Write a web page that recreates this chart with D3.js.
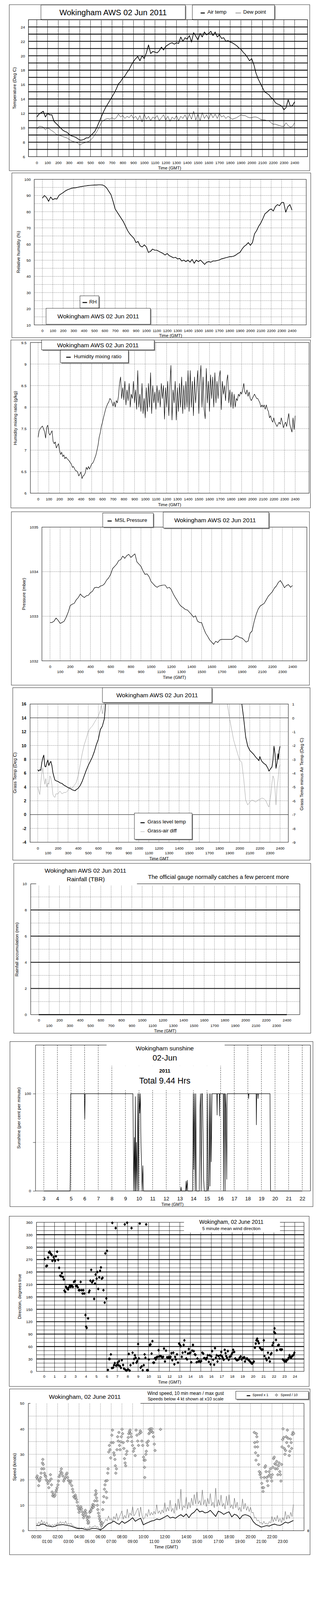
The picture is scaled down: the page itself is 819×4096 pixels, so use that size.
<!DOCTYPE html>
<html><head><meta charset="utf-8">
<script src="https://cdn.jsdelivr.net/npm/d3@7"></script>
<style>html,body{margin:0;padding:0;background:#fff}svg{display:block}</style>
</head><body>
<svg id="chart" width="819" height="4096" viewBox="0 0 1000 5000"></svg>
<script>
// ================= DATA =================
const timeTicks = d3.range(0, 2401, 100);          // HHMM axis ticks
const evenTicks = d3.range(0, 2401, 200);
const oddTicks = d3.range(100, 2400, 200);
const times20 = d3.range(0, 2401, 20);
const times10 = d3.range(0, 2401, 10);

const airTemp = [11.5,11.9,12.1,12.3,11.5,12.0,11.8,11.8,10.9,10.6,
 10.3,10.0,9.7,9.5,9.4,9.1,8.9,8.8,8.7,8.5,
 8.3,8.3,8.4,8.6,8.6,8.9,9.2,9.5,10.1,10.8,
 11.5,12.2,12.8,13.3,13.8,14.3,14.8,15.4,16.1,16.4,
 16.9,17.2,17.7,18.1,18.7,19.2,19.6,19.9,19.3,20.0,
 19.6,20.4,21.5,20.3,20.6,20.5,20.4,20.7,21.2,20.8,
 21.3,21.5,21.7,21.8,21.6,21.8,21.7,22.6,22.0,22.5,
 22.3,22.8,21.9,23.2,22.7,22.2,23.1,22.6,23.3,22.9,
 23.1,23.4,22.8,23.3,22.6,22.9,22.4,22.5,22.0,22.1,
 21.9,21.8,21.6,21.4,21.1,20.9,20.5,20.2,19.8,19.3,
 19.6,18.8,17.6,16.8,16.2,15.6,15.0,14.8,14.6,14.2,
 14.0,13.5,13.3,13.2,13.0,12.5,12.8,13.9,13.0,13.1,
 13.6];
const dewPoint = [9.8,10.2,10.2,10.1,9.7,10.0,9.8,9.6,9.4,9.1,
 9.0,8.9,8.8,8.7,8.6,8.4,8.2,8.1,8.0,7.9,
 7.6,7.8,7.9,8.0,8.1,8.3,8.6,9.0,9.5,10.1,
 10.7,11.0,11.2,11.3,11.2,11.4,11.2,11.4,11.9,11.5,
 11.7,11.3,11.6,11.4,11.8,11.3,11.6,11.1,11.7,10.8,
 11.9,11.2,11.6,11.0,11.5,11.3,11.7,11.0,11.4,11.8,
 11.1,11.6,10.9,11.5,11.2,11.7,11.0,11.6,11.3,11.8,
 11.1,11.9,11.2,12.3,11.1,11.9,11.0,12.1,11.3,11.8,
 11.2,12.0,11.4,11.9,11.3,12.0,11.5,11.7,11.3,11.6,
 11.4,11.2,11.3,11.4,11.6,11.8,11.7,11.7,11.5,11.4,
 11.4,11.5,11.5,11.4,11.2,11.1,11.1,11.0,11.0,10.7,
 10.5,10.5,10.4,10.3,10.2,10.2,10.7,10.3,10.1,10.2,
 10.7];
const relHumidity = [88.4,90.0,88.8,86.4,89.1,87.4,88.1,87.8,90.1,91.0,
 91.8,92.8,93.5,94.0,94.5,94.7,94.8,95.1,95.4,95.6,
 95.8,96.0,96.2,96.3,96.4,96.5,96.5,96.6,96.6,96.5,
 95.8,94.5,92.5,90.5,86.4,81.7,79.7,77.7,75.7,73.7,
 71.0,68.3,66.3,64.9,63.6,60.9,61.6,58.9,58.2,59.5,
 58.2,54.8,55.5,56.9,56.2,56.2,55.5,54.8,54.2,53.2,
 54.2,52.8,52.2,51.5,51.8,50.8,51.1,49.5,50.1,49.1,
 50.1,48.8,50.5,48.1,50.1,49.1,50.1,48.8,47.4,48.8,
 49.1,48.8,49.5,49.5,49.8,50.1,50.8,51.1,51.5,51.8,
 52.2,52.2,52.5,53.2,54.2,54.8,56.9,58.5,59.5,60.9,
 59.2,60.9,66.3,68.3,71.0,73.0,75.7,78.7,79.7,81.0,
 81.7,80.4,83.1,84.4,83.7,85.7,85.7,79.7,83.1,84.4,
 81.0];
const mixingRatio = [7.3,7.45,7.5,7.53,7.56,7.5,7.43,7.28,7.53,7.58,
 7.4,7.35,7.4,7.45,7.2,7.15,7.19,7.05,7.1,7.15,
 7.0,6.9,6.95,6.85,6.89,6.8,6.84,6.8,6.78,6.75,
 6.71,6.68,6.6,6.62,6.57,6.52,6.52,6.48,6.4,6.45,
 6.49,6.34,6.4,6.42,6.47,6.6,6.55,6.62,6.56,6.62,
 6.68,6.7,6.75,6.82,6.89,7.0,7.12,7.3,7.4,7.55,
 7.64,7.75,7.85,7.95,8.02,8.08,8.12,8.2,8.17,8.1,
 8.02,8.12,8.0,8.15,8.1,8.25,8.55,8.7,8.2,8.45,
 8.17,8.6,8.05,8.4,8.15,8.55,8.0,8.3,8.2,8.6,
 8.1,8.4,7.95,8.85,8.0,8.3,7.9,8.55,7.85,8.2,
 7.75,8.45,7.9,8.55,8.0,8.8,7.85,8.5,8.1,8.35,
 7.95,8.5,8.1,8.4,8.0,8.55,8.2,8.5,7.72,8.45,
 8.0,8.6,7.8,8.5,8.97,7.7,8.4,8.1,8.6,7.7,
 8.45,7.9,8.55,8.0,8.7,7.85,8.5,7.95,8.6,8.0,
 8.85,7.9,8.85,8.0,8.6,7.8,8.7,8.1,8.45,8.85,
 7.85,8.6,8.97,8.0,8.7,7.95,7.73,8.9,8.1,8.6,
 7.9,8.75,8.2,8.7,8.0,8.8,8.1,8.6,8.2,8.7,
 8.85,7.94,8.6,8.3,8.5,8.15,8.6,8.75,8.1,8.4,
 8.0,8.35,7.97,8.3,8.0,8.2,8.15,8.3,8.25,8.35,
 8.3,8.4,8.55,8.35,8.3,8.4,8.25,8.35,8.2,8.15,
 8.2,8.25,8.3,8.25,8.2,8.2,8.15,8.1,8.0,8.05,
 8.0,8.05,7.95,8.05,7.95,7.9,7.75,7.8,7.7,7.65,
 7.75,7.65,7.6,7.55,7.6,7.65,7.6,7.75,7.65,7.52,
 7.6,7.65,7.55,7.7,7.85,7.6,7.5,7.42,7.75,7.48,
 7.8];
const mslPressure = [1032.86,1032.86,1032.89,1032.96,1032.91,1032.84,1032.86,1032.89,1032.98,1033.09,
 1033.24,1033.27,1033.29,1033.37,1033.42,1033.5,1033.45,1033.42,1033.46,1033.47,
 1033.53,1033.56,1033.64,1033.65,1033.64,1033.68,1033.69,1033.73,1033.81,1033.86,
 1033.94,1034.07,1034.12,1034.17,1034.25,1034.27,1034.35,1034.3,1034.36,1034.39,
 1034.32,1034.36,1034.4,1034.22,1034.17,1034.12,1034.02,1033.94,1033.95,1033.89,
 1033.78,1033.73,1033.68,1033.65,1033.68,1033.69,1033.70,1033.70,1033.63,1033.65,
 1033.60,1033.50,1033.42,1033.35,1033.27,1033.22,1033.19,1033.15,1033.14,1033.09,
 1033.04,1032.98,1033.01,1032.89,1032.86,1032.86,1032.73,1032.62,1032.55,1032.47,
 1032.42,1032.37,1032.44,1032.41,1032.47,1032.48,1032.48,1032.48,1032.48,1032.48,
 1032.48,1032.51,1032.56,1032.55,1032.52,1032.51,1032.47,1032.42,1032.44,1032.62,
 1032.67,1032.88,1033.04,1033.16,1033.23,1033.26,1033.29,1033.37,1033.45,1033.5,
 1033.55,1033.63,1033.68,1033.76,1033.8,1033.73,1033.64,1033.69,1033.71,1033.65,
 1033.69];

const grassAmTimes = [0,10,20,30,40,50,60,70,80,90,100,110,120,130,140,150,160,170,180,200,220,240,260,280,300,320,340,360,370,380,400,420,440,460,480,500,520,540,560,580,600,620,640,660,680];
const grassAmTemp = [6.5,6.3,6.5,6.4,7.5,8.2,8.6,7.0,6.9,7.5,7.9,7.1,7.5,7.7,7.1,6.1,5.5,5.0,4.9,4.8,4.6,4.5,4.25,4.1,3.9,3.8,3.6,3.5,3.45,3.6,3.8,4.2,4.8,5.6,6.4,7.1,7.7,8.3,9.1,10.1,10.9,12.3,12.8,13.9,17.5];
const grassPmTimes = [2000,2020,2040,2060,2080,2100,2120,2140,2160,2180,2190,2200,2210,2220,2240,2260,2280,2290,2300,2310,2320,2330,2340,2350,2360,2370,2380,2385,2390,2400];
const grassPmTemp = [19,16.2,13.9,11.2,9.9,9.3,9.0,8.7,8.3,8.0,7.8,8.4,8.0,7.7,7.4,7.2,6.7,6.3,6.5,6.7,6.9,7.9,9.9,8.8,6.7,7.5,8.8,8.0,9.2,9.9];
const diffAmTimes = [0,10,20,30,40,50,60,70,80,90,100,110,120,130,140,150,160,170,180,200,220,240,260,280,300,320,340,360,380,400,420,440,460,480,500,520,540,560,580,600,620,630,640,650,660,670];
const diffAm = [-5.0,-5.3,-5.55,-4.7,-4.0,-3.6,-4.35,-4.8,-4.4,-5.0,-4.7,-4.8,-4.2,-4.35,-4.8,-5.55,-5.7,-5.75,-5.5,-5.5,-5.3,-5.5,-5.4,-5.4,-5.25,-5.0,-5.1,-4.9,-4.7,-4.2,-3.4,-2.6,-1.95,-1.5,-1.0,-0.75,-0.6,-0.35,-0.1,0.13,0.53,0.94,0.3,0.6,1.0,1.5];
const diffPmTimes = [1860,1878,1900,1920,1940,1960,1980,2000,2020,2040,2060,2080,2100,2120,2140,2160,2180,2200,2220,2240,2260,2280,2290,2300,2310,2320,2330,2340,2350,2360,2370,2380,2390,2400];
const diffPm = [1.5,1.0,-0.03,-0.83,-1.6,-2.1,-2.6,-3.07,-3.2,-4.4,-5.95,-6.3,-6.1,-5.95,-6.0,-6.1,-5.95,-5.9,-5.8,-5.85,-6.0,-6.35,-6.45,-5.95,-5.5,-4.7,-4.2,-4.4,-5.15,-6.3,-5.0,-4.5,-3.6,-3.4];

const rainTimes = [0, 2400];
const rainTotal = [0, 0];

const sunHours = [3.0,4.93,4.95,4.98,5.98,6.01,6.04,9.55,9.61,9.66,9.70,9.73,9.76,9.81,9.86,9.92,9.96,10.01,10.05,10.10,10.14,10.19,10.23,10.28,10.33,13.06,13.09,13.12,13.43,13.46,13.49,13.55,13.58,13.94,13.99,14.03,14.08,14.13,14.17,14.22,14.43,14.48,14.52,14.57,14.61,14.66,14.70,14.75,14.80,14.98,15.02,15.07,15.13,15.17,15.22,15.27,15.31,15.37,15.72,15.74,15.76,15.90,15.92,15.94,16.19,16.22,16.25,16.30,16.33,16.36,16.40,16.45,16.48,18.04,18.06,18.08,18.61,18.63,18.65,18.73,18.75,18.77,19.63,19.67,22.0];
const sunPct = [0,0,22,100,100,74,100,100,0,55,0,97,0,50,0,100,0,100,80,100,50,25,0,26,0,0,4,0,0,10,0,11,0,0,100,22,100,0,100,0,0,83,100,0,100,100,65,12,0,0,100,0,5,100,5,100,30,100,100,78,100,100,77,100,100,0,100,100,0,100,85,12,100,100,95,100,100,68,100,100,95,100,100,0,0];
const sunHourTicks = d3.range(3, 23);

const windDir = [[0.06,271],[0.2,254],[0.28,255],[0.38,275],[0.46,287],[0.53,289],[0.61,285],[0.67,283],[0.73,281],[0.79,267],[0.91,276],[0.97,270],[1.05,267],[1.13,278],[1.25,289],[1.35,269],[1.44,250],[1.54,231],[1.62,230],[1.70,237],[1.80,228],[1.88,222],[1.94,195],[2.02,192],[2.10,204],[2.20,200],[2.30,198],[2.37,203],[2.47,208],[2.55,204],[2.65,207],[2.75,204],[2.85,216],[2.95,218],[3.05,206],[3.13,207],[3.23,203],[3.32,196],[3.42,196],[3.50,216],[3.60,196],[3.68,188],[3.76,196],[3.84,188],[3.96,136],[4.02,108],[4.08,105],[4.21,128],[4.29,191],[4.35,195],[4.43,219],[4.51,245],[4.59,215],[4.69,219],[4.79,175],[4.87,212],[4.93,234],[5.03,224],[5.10,240],[5.18,199],[5.28,227],[5.36,243],[5.44,251],[5.52,224],[5.60,226],[5.68,196],[5.80,166],[5.86,285],[5.96,176],[6.02,291],[6.11,3.5],[6.21,30],[6.29,30],[6.39,41],[6.49,8],[6.53,358.6],[6.61,9],[6.69,15],[6.77,20],[6.85,346],[6.89,14],[6.98,15.5],[7.04,21],[7.12,15],[7.18,25],[7.26,13],[7.36,8.5],[7.44,27],[7.56,15.5],[7.64,6.7],[7.72,355],[7.78,4],[7.88,2],[7.95,359],[8.03,5],[8.11,42],[8.19,2],[8.27,15],[8.37,346],[8.47,45],[8.53,20],[8.61,30],[8.69,39],[8.77,33],[8.84,21],[8.92,25],[9.0,66],[9.08,31],[9.16,357],[9.24,9],[9.34,12],[9.44,2.7],[9.54,15],[9.62,41],[9.70,33],[9.77,355],[9.85,3],[9.93,2.7],[10.03,29],[10.11,64],[10.19,65],[10.29,43],[10.37,73],[10.45,21],[10.53,21],[10.61,32],[10.69,29],[10.76,34],[10.86,35],[10.96,51],[11.02,36],[11.12,37],[11.22,36],[11.32,33],[11.40,35],[11.48,55],[11.57,24],[11.67,50],[11.77,34],[11.85,33],[11.95,35],[12.03,32],[12.11,35],[12.19,44],[12.27,27],[12.37,45],[12.47,17],[12.54,35],[12.62,29],[12.72,41],[12.82,21],[12.92,67],[12.98,65],[13.08,61],[13.18,35],[13.26,45],[13.36,64],[13.43,75],[13.51,47],[13.61,31],[13.69,29],[13.77,43],[13.85,54],[13.93,44],[14.01,45],[14.09,22],[14.17,50],[14.25,64],[14.33,49],[14.42,41],[14.50,40],[14.60,22],[14.68,31],[14.78,24],[14.86,25],[14.96,23],[15.04,25],[15.14,45],[15.24,43],[15.32,32],[15.41,31],[15.51,29],[15.59,33],[15.67,39],[15.77,23],[15.85,39],[15.93,17],[16.01,36],[16.09,49],[16.18,28],[16.28,16],[16.36,56],[16.44,33],[16.52,39],[16.60,24],[16.70,37],[16.80,31],[16.88,39],[16.96,47],[17.04,36],[17.11,32],[17.19,28],[17.29,52],[17.37,44],[17.43,37],[17.51,33],[17.59,49],[17.67,28],[17.75,35],[17.85,36],[17.95,41],[18.03,45],[18.10,52],[18.20,47],[18.30,31],[18.38,29],[18.46,27],[18.54,28],[18.64,29],[18.72,33],[18.82,36],[18.90,29],[18.97,31],[19.07,33],[19.17,34],[19.23,24],[19.33,30],[19.43,31],[19.51,29],[19.59,27],[19.67,25],[19.75,23],[19.83,20],[19.92,19],[20.0,21],[20.08,24],[20.18,57],[20.26,67],[20.32,75],[20.40,79],[20.48,73],[20.56,68],[20.66,57],[20.76,54],[20.84,52],[20.93,53],[21.03,75],[21.10,37],[21.23,31],[21.31,27],[21.43,45],[21.51,33],[21.61,24],[21.69,41],[21.77,44],[21.86,63],[21.94,69],[22.02,95],[22.06,104],[22.12,92],[22.20,76],[22.28,51],[22.40,63],[22.47,64],[22.60,53],[22.69,52],[22.77,53],[22.85,29],[22.93,27],[23.01,24],[23.09,25],[23.17,24],[23.23,27],[23.33,29],[23.41,33],[23.49,39],[23.56,35],[23.64,33],[23.72,36],[23.80,38],[23.88,40],[23.96,45]];
const dirTicks = d3.range(0, 361, 30);
const hourTicks24 = d3.range(0, 25);

const meanHours = d3.range(0, 97).map(i => i * 0.25);
const meanSpeed = [2.1,2.0,2.6,2.5,1.9,1.8,1.5,1.7,2.2,2.3,
 2.4,2.2,2.0,1.8,1.4,1.0,0.8,0.9,0.6,0.4,
 0.6,0.9,0.9,0.7,0.3,1.0,2.0,2.8,3.1,3.8,
 3.0,2.5,3.7,2.9,3.5,4.2,5.1,3.7,4.4,4.9,
 2.3,2.9,3.3,3.8,4.0,4.6,4.3,4.8,5.4,6.0,
 5.0,5.3,4.9,5.7,6.3,5.5,6.6,5.1,6.6,7.3,
 8.6,7.4,7.7,7.0,7.2,8.0,6.8,5.6,7.7,7.2,
 6.4,7.0,7.4,5.4,6.5,6.0,4.6,6.0,6.3,6.0,
 5.4,3.6,2.5,2.0,1.4,1.7,2.0,1.8,2.3,2.6,
 2.2,2.1,2.6,3.4,3.0,3.5,4.0];
const gustHours = d3.range(0, 193).map(i => i * 0.125);
const gustSpeed = [3.0,2.4,3.5,2.6,4.2,2.8,3.6,2.5,
 3.4,2.1,2.6,1.8,2.4,1.9,2.6,2.2,
 3.2,2.6,3.6,2.8,3.4,2.7,3.8,2.4,
 2.9,2.5,3.0,2.0,1.9,1.4,1.5,1.0,
 1.3,0.9,1.1,0.8,1.4,0.7,1.0,0.9,
 1.6,1.2,1.5,1.6,2.0,1.3,1.6,0.8,
 0.5,1.5,2.6,3.5,4.6,3.8,5.8,4.2,
 4.8,3.6,5.6,4.5,6.8,4.0,5.2,6.5,
 7.8,4.5,6.0,5.0,8.5,5.2,7.0,6.0,
 9.5,5.8,6.5,8.0,8.8,5.5,9.3,6.0,
 4.5,5.0,6.8,5.5,8.4,6.0,7.2,6.2,
 7.6,6.5,10.2,6.8,7.8,6.5,8.2,7.0,
 11.0,7.5,9.2,7.8,12.0,7.5,8.8,6.8,
 10.8,8.0,12.5,8.5,16.3,8.0,9.8,9.0,
 13.2,8.5,11.2,9.0,12.8,10.0,14.2,10.5,
 15.2,10.5,11.8,10.0,16.0,10.2,12.2,9.5,
 12.8,10.5,14.6,9.8,11.2,9.0,16.7,9.5,
 12.2,10.0,14.0,9.5,10.8,8.5,13.6,10.0,
 14.2,9.0,10.2,8.5,12.8,9.0,11.2,8.0,
 9.2,7.5,12.5,8.5,10.8,8.0,9.6,7.5,
 9.2,7.0,7.2,5.0,5.2,3.8,4.2,3.0,
 3.3,2.5,3.7,2.6,3.0,2.4,3.6,3.0,
 5.6,3.5,5.2,3.8,6.0,3.5,4.8,3.2,
 5.2,4.0,7.6,4.5,6.2,4.8,7.2,5.5,
 10.3];
const lightWind = [[0.04,20.9],[0.1,21.5],[0.15,20.3],[0.23,17.7],[0.29,19.5],[0.35,20.0],[0.41,20.9],[0.46,22.6],[0.52,24.3],[0.58,26.6],[0.62,28.0],[0.66,26.0],[0.71,24.3],[0.77,22.6],[0.83,21.7],[0.89,21.2],[0.95,20.0],[1.02,19.5],[1.10,18.5],[1.18,16.9],[1.25,19.5],[1.33,22.0],[1.39,20.3],[1.43,18.0],[1.49,15.2],[1.54,13.7],[1.60,14.3],[1.68,13.4],[1.76,14.0],[1.83,15.2],[1.89,16.0],[1.95,16.9],[2.03,18.0],[2.08,19.5],[2.14,21.2],[2.22,22.0],[2.28,23.2],[2.35,24.3],[2.41,22.6],[2.49,21.5],[2.57,19.5],[2.64,20.3],[2.72,20.9],[2.80,22.0],[2.87,22.6],[2.93,20.9],[3.01,19.7],[3.09,19.5],[3.16,18.6],[3.24,19.5],[3.32,17.7],[3.39,16.3],[3.45,15.2],[3.51,13.4],[3.59,12.9],[3.65,14.0],[3.70,13.2],[3.76,12.3],[3.82,11.2],[3.88,9.7],[3.94,8.6],[4.0,7.2],[4.05,8.0],[4.11,8.9],[4.17,9.4],[4.23,8.6],[4.30,7.4],[4.36,6.3],[4.42,5.1],[4.48,6.0],[4.53,7.2],[4.59,8.0],[4.65,6.9],[4.71,5.7],[4.77,4.9],[4.80,4.0],[4.84,2.9],[4.88,3.4],[4.94,5.4],[5.0,7.2],[5.05,7.7],[5.11,7.7],[5.17,8.6],[5.23,9.4],[5.29,10.3],[5.34,9.2],[5.40,10.0],[5.46,11.7],[5.52,14.0],[5.56,15.7],[5.60,14.6],[5.63,12.9],[5.67,11.7],[5.71,10.0],[5.75,8.3],[5.81,6.9],[5.87,5.7],[5.92,4.6],[5.98,3.7],[6.04,2.6],[6.10,2.0],[6.15,3.1],[6.21,8.3],[6.27,11.2],[6.31,13.4],[6.37,16.3],[6.42,18.0],[6.48,19.5],[6.54,15.2],[6.58,12.9],[6.62,19.7],[6.68,22.6],[6.71,24.3],[6.77,30.9],[6.83,33.5],[6.89,31.8],[6.95,28.6],[7.0,34.6],[7.06,37.5],[7.12,39.5],[7.18,34.6],[7.24,30.6],[7.29,29.7],[7.35,28.0],[7.39,25.5],[7.43,22.6],[7.49,24.3],[7.54,31.8],[7.60,36.9],[7.66,35.2],[7.72,38.6],[7.78,33.5],[7.83,31.8],[7.89,34.9],[7.95,36.9],[8.01,39.8],[8.06,38.1],[8.12,34.6],[8.18,32.3],[8.24,28.3],[8.30,26.6],[8.35,25.5],[8.41,30.0],[8.47,31.2],[8.53,35.2],[8.59,36.6],[8.64,38.1],[8.70,38.9],[8.76,39.5],[8.82,38.1],[8.87,36.9],[8.93,35.0],[8.99,33.5],[9.07,31.2],[9.16,32.3],[9.24,29.5],[9.32,39.5],[9.40,37.5],[9.47,35.2],[9.55,33.5],[9.63,38.1],[9.71,39.2],[9.78,38.6],[9.86,35.2],[9.94,33.5],[10.02,28.9],[10.07,27.7],[10.11,24.9],[10.13,20.9],[10.17,27.7],[10.23,30.0],[10.28,31.2],[10.34,34.6],[10.40,33.5],[10.46,35.2],[10.52,38.1],[10.55,39.8],[10.61,38.6],[10.67,40.0],[10.73,39.2],[10.80,40.0],[10.88,38.6],[10.94,36.9],[11.02,34.0],[11.09,31.5],[11.60,39.8],[20.35,38.6],[20.39,34.6],[20.43,32.9],[20.47,30.6],[20.51,27.7],[20.55,38.1],[20.59,36.9],[20.63,34.9],[20.66,32.9],[20.70,29.5],[20.76,26.0],[20.82,23.2],[20.88,22.0],[20.94,22.6],[20.99,20.9],[21.05,18.6],[21.11,16.9],[21.17,15.4],[21.22,16.9],[21.28,20.9],[21.34,24.9],[21.40,25.5],[21.45,23.2],[21.51,20.9],[21.57,19.5],[21.63,17.7],[21.69,21.5],[21.74,23.2],[21.80,22.0],[21.86,24.3],[21.92,20.9],[21.98,19.5],[22.03,22.0],[22.09,24.9],[22.15,28.3],[22.21,28.9],[22.27,26.3],[22.32,24.3],[22.38,26.0],[22.44,27.2],[22.50,24.3],[22.55,22.0],[22.61,25.5],[22.67,26.6],[22.73,23.2],[22.79,22.0],[22.84,19.5],[22.90,26.0],[22.94,32.9],[23.0,35.8],[23.03,40.0],[23.09,36.6],[23.15,32.3],[23.21,30.0],[23.27,31.5],[23.33,36.9],[23.38,34.6],[23.44,39.5],[23.50,36.3],[23.56,33.2],[23.61,29.5],[23.67,31.2],[23.73,36.0],[23.79,34.6],[23.84,32.3],[23.90,37.8],[23.96,38.6],[24.02,38.1]];
const clockEven = d3.range(0, 23, 2);
const clockOdd = d3.range(1, 24, 2);

// ================= DRAWING HELPERS =================
const FONT = "'Liberation Sans', Arial, Helvetica, sans-serif";
const svg = d3.select("#chart");
svg.append("rect").attr("width", 1000).attr("height", 5000).attr("fill", "#fff");
let clipN = 0;
function makeClip(x0, y0, x1, y1) {
  const id = "clip" + (clipN++);
  svg.append("clipPath").attr("id", id).append("rect")
    .attr("x", x0).attr("y", y0).attr("width", x1 - x0).attr("height", y1 - y0);
  return `url(#${id})`;
}
function rectStroke(x0, y0, x1, y1, w = 1) {
  svg.append("rect").attr("x", x0).attr("y", y0).attr("width", x1 - x0).attr("height", y1 - y0)
    .attr("fill", "none").attr("stroke", "#000").attr("stroke-width", w);
}
function seg(x0, y0, x1, y1, w = 1, color = "#000") {
  svg.append("line").attr("x1", x0).attr("y1", y0).attr("x2", x1).attr("y2", y1)
    .attr("stroke", color).attr("stroke-width", w);
}
function whiteRect(x, y, w, h) {
  svg.append("rect").attr("x", x).attr("y", y).attr("width", w).attr("height", h).attr("fill", "#fff");
}
function shadowBox(x, y, w, h) {
  svg.append("rect").attr("x", x + 3).attr("y", y + 3).attr("width", w).attr("height", h).attr("fill", "#8a8a8a");
  svg.append("rect").attr("x", x).attr("y", y).attr("width", w).attr("height", h)
    .attr("fill", "#fff").attr("stroke", "#000").attr("stroke-width", 1);
}
function label(x, y, str, size, opt = {}) {
  const t = svg.append("text").attr("x", x).attr("y", y).attr("font-family", FONT)
    .attr("font-size", size).attr("text-anchor", opt.anchor || "middle")
    .attr("dy", "0.35em").attr("fill", opt.fill || "#000").text(str);
  if (opt.bold) t.attr("font-weight", "bold");
  if (opt.rot) t.attr("transform", `rotate(-90 ${x} ${y})`);
  return t;
}
function hLines(y, x0, x1, vals, w, dash, color = "#000") {
  svg.append("g").selectAll("line").data(vals).join("line")
    .attr("x1", x0).attr("x2", x1).attr("y1", d => y(d)).attr("y2", d => y(d))
    .attr("stroke", color).attr("stroke-width", w).attr("stroke-dasharray", dash || null);
}
function vLines(x, y0, y1, vals, w, dash, color = "#000") {
  svg.append("g").selectAll("line").data(vals).join("line")
    .attr("y1", y0).attr("y2", y1).attr("x1", d => x(d)).attr("x2", d => x(d))
    .attr("stroke", color).attr("stroke-width", w).attr("stroke-dasharray", dash || null);
}
function xLabels(x, vals, yPos, size, fmt, bold) {
  const g = svg.append("g").attr("transform", `translate(0,${yPos})`)
    .call(d3.axisBottom(x).tickValues(vals).tickSize(0).tickPadding(0).tickFormat(fmt || (d => d)));
  g.select(".domain").remove();
  g.attr("font-family", FONT).attr("font-size", size);
  if (bold) g.attr("font-weight", "bold");
  g.selectAll("text").attr("y", 0).attr("dy", "0.35em").attr("fill", "#000");
  return g;
}
function yLabels(y, vals, xPos, size, fmt, right, bold) {
  const ax = right ? d3.axisRight(y) : d3.axisLeft(y);
  const g = svg.append("g").attr("transform", `translate(${xPos},0)`)
    .call(ax.tickValues(vals).tickSize(0).tickPadding(0).tickFormat(fmt || (d => d)));
  g.select(".domain").remove();
  g.attr("font-family", FONT).attr("font-size", size);
  if (bold) g.attr("font-weight", "bold");
  g.selectAll("text").attr("x", 0).attr("dy", "0.35em").attr("fill", "#000");
  return g;
}
function drawLine(xs, ys, x, y, clip, w, color = "#000") {
  const pts = xs.map((t, i) => [t, ys[i]]);
  svg.append("path").datum(pts).attr("clip-path", clip)
    .attr("d", d3.line().x(d => x(d[0])).y(d => y(d[1])))
    .attr("fill", "none").attr("stroke", color).attr("stroke-width", w).attr("stroke-linejoin", "round");
}

// ================= PANEL 1 : temperature =================
{
  const X0 = 89, Y0 = 61, X1 = 961, Y1 = 489;
  const x = d3.scaleLinear().domain([-77.5, 2520]).range([X0, X1]);
  const y = d3.scaleLinear().domain([6, 25]).range([Y1, Y0]);
  rectStroke(29, 14, 968, 533);
  hLines(y, X0, X1, d3.range(7, 25), 2.5);
  vLines(x, Y0, Y1, timeTicks, 1);
  const clip = makeClip(X0, Y0, X1, Y1);
  drawLine(times20, dewPoint, x, y, clip, 1);
  drawLine(times20, airTemp, x, y, clip, 2);
  rectStroke(X0, Y0, X1, Y1, 1.5);
  xLabels(x, timeTicks, 508, 12);
  yLabels(y, d3.range(6, 25, 2), 78, 12);
  label(530, 525, "Time (GMT)", 13.5);
  label(45, 275, "Temperature (Deg C)", 14, { rot: true });
  shadowBox(128, 15, 451, 45);
  label(353.5, 38, "Wokingham AWS 02 Jun 2011", 25);
  shadowBox(601, 15, 257, 45);
  seg(627, 40, 640, 40, 3);
  label(648, 37, "Air temp", 16, { anchor: "start" });
  seg(736, 40, 753, 40, 1);
  label(760, 37, "Dew point", 16, { anchor: "start" });
}

// ================= PANEL 2 : relative humidity =================
{
  const X0 = 107, Y0 = 560, X1 = 957, Y1 = 1015;
  const x = d3.scaleLinear().domain([-78, 2537]).range([X0, X1]);
  const y = d3.scaleLinear().domain([10, 100]).range([Y1, Y0]);
  rectStroke(37, 540, 971, 1055);
  hLines(y, X0, X1, d3.range(15, 100, 5), 1, "1,2");
  vLines(x, Y0, Y1, timeTicks, 1, "1,2");
  const clip = makeClip(X0, Y0, X1, Y1);
  drawLine(times20, relHumidity, x, y, clip, 2);
  rectStroke(X0, Y0, X1, Y1, 1.2);
  xLabels(x, timeTicks, 1033, 12);
  yLabels(y, d3.range(10, 101, 10), 96, 12);
  label(533, 1048, "Time (GMT)", 13.5);
  label(57, 787, "Relative humidity (%)", 14, { rot: true });
  shadowBox(250, 924, 59, 38);
  seg(258, 945, 272, 945, 3);
  label(279, 943, "RH", 16, { anchor: "start" });
  shadowBox(144, 963, 326, 50);
  label(307, 988, "Wokingham AWS 02 Jun 2011", 19);
}

// ================= PANEL 3 : mixing ratio =================
{
  const X0 = 95, Y0 = 1070, X1 = 966, Y1 = 1541;
  const x = d3.scaleLinear().domain([-72, 2530]).range([X0, X1]);
  const y = d3.scaleLinear().domain([6, 9.5]).range([Y1, Y0]);
  rectStroke(34, 1062, 970, 1587);
  hLines(y, X0, X1, d3.range(6.5, 9.5, 0.5), 1, "1,2");
  vLines(x, Y0, Y1, timeTicks, 1, "1,2");
  const clip = makeClip(X0, Y0, X1, Y1);
  drawLine(times10, mixingRatio, x, y, clip, 1.4);
  rectStroke(X0, Y0, X1, Y1, 1.2);
  xLabels(x, timeTicks, 1559, 12);
  yLabels(y, d3.range(6, 9.51, 0.5), 83, 12);
  label(530, 1577, "Time (GMT)", 13.5);
  label(48, 1306, "Humidity mixing ratio (g/kg)", 14, { rot: true });
  shadowBox(130, 1062, 352, 31);
  label(306, 1078, "Wokingham AWS 02 Jun 2011", 19);
  shadowBox(189, 1094, 212, 39);
  seg(207, 1116, 221, 1116, 3);
  label(231, 1114, "Humidity mixing ratio", 16, { anchor: "start" });
}

// ================= PANEL 4 : MSL pressure =================
{
  const X0 = 131, Y0 = 1647, X1 = 959, Y1 = 2065;
  const x = d3.scaleLinear().domain([-80, 2542]).range([X0, X1]);
  const y = d3.scaleLinear().domain([1032, 1035]).range([Y1, Y0]);
  rectStroke(35.5, 1599, 967, 2141);
  hLines(y, X0, X1, [1033, 1034], 1, "1,2");
  vLines(x, Y0, Y1, timeTicks, 1, "1,2");
  const clip = makeClip(X0, Y0, X1, Y1);
  drawLine(times20, mslPressure, x, y, clip, 1.5);
  rectStroke(X0, Y0, X1, Y1, 1.2);
  xLabels(x, evenTicks, 2083, 12);
  xLabels(x, oddTicks, 2099, 12);
  yLabels(y, [1032, 1033, 1034, 1035], 119.5, 12);
  label(545, 2117, "Time (GMT)", 13.5);
  label(74, 1856, "Pressure (mbar)", 14, { rot: true });
  shadowBox(321, 1603, 158, 44);
  seg(336, 1628, 349, 1628, 3);
  label(359, 1625, "MSL Pressure", 16, { anchor: "start" });
  shadowBox(510, 1600, 330, 50);
  label(672, 1625, "Wokingham AWS 02 Jun 2011", 19);
}

// ================= PANEL 5 : grass temperature =================
{
  const X0 = 94, Y0 = 2200, X1 = 901, Y1 = 2632;
  const x = d3.scaleLinear().domain([-76, 2482]).range([X0, X1]);
  const yL = d3.scaleLinear().domain([-4, 16]).range([Y1, Y0]);
  const yR = d3.scaleLinear().domain([-9, 1]).range([Y1, Y0]);
  rectStroke(40, 2149, 969, 2688);
  hLines(yL, X0, X1, [-2, 2, 4, 6, 8, 10, 12], 1, "1,2");
  hLines(yL, X0, X1, [0, 14], 1.2);
  vLines(x, Y0, Y1, timeTicks, 1, "1,2");
  const clip = makeClip(X0, Y0, X1, Y1);
  drawLine(diffAmTimes, diffAm, x, yR, clip, 1, "#8a8a8a");
  drawLine(diffPmTimes, diffPm, x, yR, clip, 1, "#8a8a8a");
  drawLine(grassAmTimes, grassAmTemp, x, yL, clip, 2);
  drawLine(grassPmTimes, grassPmTemp, x, yL, clip, 2);
  rectStroke(X0, Y0, X1, Y1, 1.2);
  xLabels(x, evenTicks, 2651, 12);
  xLabels(x, oddTicks, 2666, 12);
  yLabels(yL, d3.range(-4, 17, 2), 82, 13, null, false, true);
  yLabels(yR, d3.range(-9, 2, 1), 913, 12, null, true);
  label(497, 2683, "Time GMT", 13);
  label(47, 2415, "Grass Temp (Deg C)", 14, { rot: true });
  label(943, 2419, "Grass Temp minus Air Temp (Deg C)", 14, { rot: true });
  shadowBox(320, 2149, 342, 46);
  label(491, 2172, "Wokingham AWS 02 Jun 2011", 19);
  shadowBox(420, 2541, 180, 82);
  seg(439, 2571, 452, 2571, 3);
  label(461, 2568, "Grass level temp", 16, { anchor: "start" });
  seg(439, 2599, 452, 2599, 1, "#8a8a8a");
  label(461, 2596, "Grass-air diff", 16, { anchor: "start" });
}

// ================= PANEL 6 : rainfall =================
{
  const X0 = 96, Y0 = 2762, X1 = 937, Y1 = 3171;
  const x = d3.scaleLinear().domain([-78, 2526]).range([X0, X1]);
  const y = d3.scaleLinear().domain([0, 10]).range([Y1, Y0]);
  rectStroke(43, 2698, 971, 3229);
  vLines(x, Y0 + 6, Y1, timeTicks, 1, "1,2");
  hLines(y, X0, X1, [1, 3, 5, 7, 9], 1, "1,2");
  hLines(y, X0, X1, [2, 4, 6, 8], 2.5);
  seg(X0, Y0, X0, Y1, 1.2); seg(X1, Y0, X1, Y1, 1.2); seg(X0, Y1, X1, Y1, 1.2);
  seg(X0, Y0, 113, Y0, 1.2); seg(428, Y0, X1, Y0, 1.2);
  const clip = makeClip(X0, Y0 - 5, X1, Y1 + 5);
  drawLine(rainTimes, rainTotal, x, y, clip, 3);
  xLabels(x, evenTicks, 3188, 12);
  xLabels(x, oddTicks, 3205, 12);
  yLabels(y, d3.range(0, 11, 2), 84, 12);
  label(516, 3222, "Time (GMT)", 13);
  label(52, 2967, "Rainfall accumulation (mm)", 14, { rot: true });
  label(267, 2720, "Wokingham AWS 02 Jun 2011", 19);
  label(268, 2747, "Rainfall (TBR)", 19);
  label(683, 2740, "The official gauge normally catches a few percent more", 18);
}

// ================= PANEL 7 : sunshine =================
{
  const X0 = 111, Y0 = 3266, X1 = 970, Y1 = 3722;
  const x = d3.scaleLinear().domain([2.39, 22.6]).range([X0, X1]);
  const y = d3.scaleLinear().domain([0, 150]).range([Y1, Y0]);
  rectStroke(31, 3255, 978, 3771);
  vLines(x, Y0, Y1, sunHourTicks, 1, "4,3");
  hLines(y, X0, X1, [50, 100], 1, "1,2", "#999");
  seg(X0, Y0, X0, Y1, 1.2); seg(X1, Y0, X1, Y1, 1.2); seg(X0, Y1, X1, Y1, 1.2);
  seg(X0, Y0, X1, Y0, 1.2);
  whiteRect(333, Y0 - 2, 369, 67);
  whiteRect(360, 3331, 305, 76);
  const clip = makeClip(X0, Y0, X1, Y1 + 3);
  drawLine(sunHours, sunPct, x, y, clip, 1.5);
  const ax = svg.append("g").attr("transform", `translate(${X0},0)`)
    .call(d3.axisLeft(y).tickValues([0, 50, 100]).tickSize(8).tickPadding(6).tickFormat(d => d === 50 ? "" : d));
  ax.select(".domain").remove();
  ax.attr("font-family", FONT).attr("font-size", 12);
  ax.selectAll("text").attr("fill", "#000");
  ax.selectAll("line").attr("stroke", "#000");
  xLabels(x, sunHourTicks, 3746, 16);
  label(539, 3764, "Time (GMT)", 13);
  label(58, 3494, "Sunshine (per cent per minute)", 14, { rot: true });
  label(515, 3276, "Wokingham sunshine", 19);
  label(515, 3306, "02-Jun", 25);
  label(515, 3347, "2011", 16, { bold: true });
  label(515, 3377, "Total 9.44 Hrs", 26);
}

// ================= PANEL 8 : wind direction =================
{
  const X0 = 114, Y0 = 3820, X1 = 950, Y1 = 4286;
  const x = d3.scaleLinear().domain([-0.73, 24.88]).range([X0, X1]);
  const y = d3.scaleLinear().domain([0, 360]).range([Y1, Y0]);
  rectStroke(29, 3801, 966, 4333);
  hLines(y, X0, X1, d3.range(10, 360, 10).filter(d => d % 30 !== 0), 1);
  hLines(y, X0, X1, d3.range(30, 360, 30), 2.5);
  vLines(x, Y0, Y1, hourTicks24, 1);
  rectStroke(X0, Y0, X1, Y1, 1.2);
  whiteRect(575, 3805, 300, 47);
  svg.append("g").selectAll("path").data(windDir).join("path")
    .attr("transform", d => `translate(${x(d[0])},${y(d[1])})`)
    .attr("d", "M0,-5L4,0L0,5L-4,0Z").attr("fill", "#000");
  xLabels(x, hourTicks24, 4302, 12);
  yLabels(y, dirTicks, 101.5, 12);
  label(530, 4320, "Time (GMT)", 13.5);
  label(61, 4052, "Direction, degrees true", 14, { rot: true });
  label(723, 3819, "Wokingham,  02 June 2011", 17);
  label(723, 3839, "5 minute mean wind direction", 14);
}

// ================= PANEL 9 : wind speed =================
{
  const X0 = 88.5, Y0 = 4386, X1 = 950, Y1 = 4784;
  const x = d3.scaleLinear().domain([-0.733, 24.99]).range([X0, X1]);
  const y = d3.scaleLinear().domain([0, 50]).range([Y1, Y0]);
  rectStroke(30, 4341, 969, 4859);
  hLines(y, X0, X1, d3.range(5, 50, 5), 1, "1,2");
  vLines(x, Y0, Y1, hourTicks24, 1, "1,2");
  seg(X0, Y0, X0, Y1, 1.2); seg(X1, Y0, X1, Y1, 1.2); seg(X0, Y1, X1, Y1, 1.2);
  seg(X0, Y0, 95, Y0, 1.2); seg(439, Y0, X1, Y0, 1.2);
  const clip = makeClip(X0, Y0, X1, Y1);
  drawLine(gustHours, gustSpeed, x, y, clip, 1, "#505050");
  drawLine(meanHours, meanSpeed, x, y, clip, 2);
  svg.append("g").selectAll("path").data(lightWind).join("path")
    .attr("transform", d => `translate(${x(d[0])},${y(d[1])})`)
    .attr("d", "M0,-4.5L4.5,0L0,4.5L-4.5,0Z")
    .attr("fill", "#bdbdbd").attr("stroke", "#222").attr("stroke-width", 0.8);
  const hh = d => (d < 10 ? "0" + d : "" + d) + ":00";
  xLabels(x, clockEven, 4803, 12.5, hh);
  xLabels(x, clockOdd, 4818, 12.5, hh);
  yLabels(y, d3.range(0, 51, 10), 76, 12);
  label(963, 4785, "0", 10, { bold: true });
  label(519, 4835, "Time (GMT)", 14);
  label(45, 4585, "Speed (knots)", 14, { rot: true });
  label(265, 4365, "Wokingham,  02 June 2011", 19);
  label(580, 4354, "Wind speed, 10 min mean / max gust", 14.5);
  label(580, 4372, "Speeds below 4 kt shown at x10 scale", 14);
  shadowBox(737, 4348, 227, 25);
  seg(771, 4362, 782, 4362, 3);
  label(789, 4360, "Speed x 1", 11, { anchor: "start" });
  svg.append("path").attr("transform", "translate(864,4360)")
    .attr("d", "M0,-4.5L4.5,0L0,4.5L-4.5,0Z").attr("fill", "#bdbdbd").attr("stroke", "#222").attr("stroke-width", 0.8);
  label(877, 4360, "Speed / 10", 11, { anchor: "start" });
}
</script>
</body></html>
